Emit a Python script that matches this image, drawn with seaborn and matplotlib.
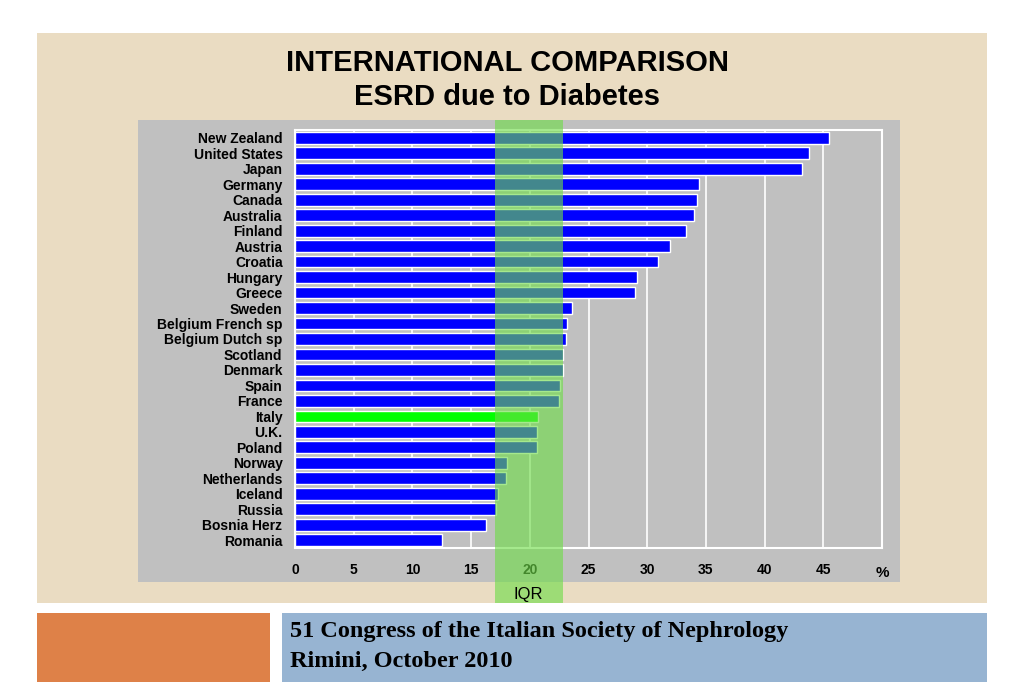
import seaborn as sns
import pandas as pd
from matplotlib import pyplot as plt
from matplotlib.patches import Rectangle

countries = ['New Zealand', 'United States', 'Japan', 'Germany', 'Canada',
             'Australia', 'Finland', 'Austria', 'Croatia', 'Hungary', 'Greece',
             'Sweden', 'Belgium French sp', 'Belgium Dutch sp', 'Scotland',
             'Denmark', 'Spain', 'France', 'Italy', 'U.K.', 'Poland', 'Norway',
             'Netherlands', 'Iceland', 'Russia', 'Bosnia Herz', 'Romania']
esrd_pct = [45.5, 43.8, 43.2, 34.4, 34.2, 34.0, 33.3, 31.9, 30.9, 29.1, 29.0,
            23.6, 23.2, 23.1, 22.8, 22.8, 22.6, 22.5, 20.7, 20.6, 20.6, 18.1,
            18.0, 17.3, 17.1, 16.3, 12.5]
iqr_low, iqr_high = 17.0, 22.8
xticks = [0, 5, 10, 15, 20, 25, 30, 35, 40, 45]

df = pd.DataFrame({'country': countries, 'pct': esrd_pct})
colors = {c: ('#00FF00' if c == 'Italy' else '#0000FF') for c in countries}

sns.set_style('white')
plt.rcParams['font.family'] = ['Liberation Sans', 'DejaVu Sans']
plt.rcParams['text.color'] = 'black'

W, H = 1024, 700
fig = plt.figure(figsize=(W / 100, H / 100), dpi=100)
fig.patch.set_facecolor('white')


def box(x0, y0, x1, y1, color):
    # pixel box (top-left origin) -> figure fraction rectangle
    fig.patches.append(Rectangle((x0 / W, 1 - y1 / H), (x1 - x0) / W, (y1 - y0) / H,
                                 transform=fig.transFigure, facecolor=color,
                                 edgecolor='none', zorder=-5))


box(37, 33, 987, 603, '#EADCC2')
box(138, 120, 900, 582, '#C0C0C0')
box(37, 613, 270, 682, '#DE8148')
box(282, 613, 987, 682, '#97B4D2')

ax = fig.add_axes([295 / W, 1 - 548 / H, 587 / W, 418 / H])
ax.set_zorder(2)
ax.set_facecolor('none')
sns.barplot(data=df, x='pct', y='country', hue='country', palette=colors,
            legend=False, orient='h', width=0.76, edgecolor='white',
            linewidth=1, saturation=1, ax=ax, zorder=3)

ax.set_xlim(0, 50)
ax.set_ylim(26.5, -0.5)
ax.set_xticks(xticks)
ax.set_xticklabels([str(t) for t in xticks], fontweight='bold', fontsize=10)
ax.set_yticks(range(len(countries)))
ax.set_yticklabels(countries, fontweight='bold', fontsize=10)
ax.set_xlabel('')
ax.set_ylabel('')
for xv in range(5, 50, 5):
    ax.axvline(xv, color='white', lw=1.2, zorder=1)
for s in ax.spines.values():
    s.set_color('white')
    s.set_linewidth(1.5)
ax.tick_params(axis='x', colors='white', length=4, width=1, pad=7, labelcolor='black')
ax.tick_params(axis='y', length=0, pad=9, labelcolor='black')
ax.text(50, (548 - 573) / 418, '%', transform=ax.get_xaxis_transform(), ha='center',
        va='center', fontsize=11, fontweight='bold')

# IQR band, spans beyond the axes down into the beige panel
ymin = (548 - 603) / 418
ymax = (548 - 120) / 418
ax.axvspan(iqr_low, iqr_high, ymin=ymin, ymax=ymax, color='#6EDC48', alpha=0.62,
           lw=0, zorder=5, clip_on=False)
ax.text((iqr_low + iqr_high) / 2, (548 - 595) / 418, 'IQR', transform=ax.get_xaxis_transform(),
        ha='center', va='center', fontsize=12, zorder=6)

fig.text(507 / W, 1 - 63 / H, 'INTERNATIONAL COMPARISON', ha='center', va='center',
         fontsize=21, fontweight='bold')
fig.text(507 / W, 1 - 97 / H, 'ESRD due to Diabetes', ha='center', va='center',
         fontsize=21, fontweight='bold')

fig.text(290 / W, 1 - 631 / H, '51 Congress of the Italian Society of Nephrology',
         ha='left', va='center', fontsize=17.5, fontweight='bold', family='Liberation Serif')
fig.text(290 / W, 1 - 661 / H, 'Rimini, October 2010',
         ha='left', va='center', fontsize=17.5, fontweight='bold', family='Liberation Serif')

fig.savefig('out.png', dpi=100)
